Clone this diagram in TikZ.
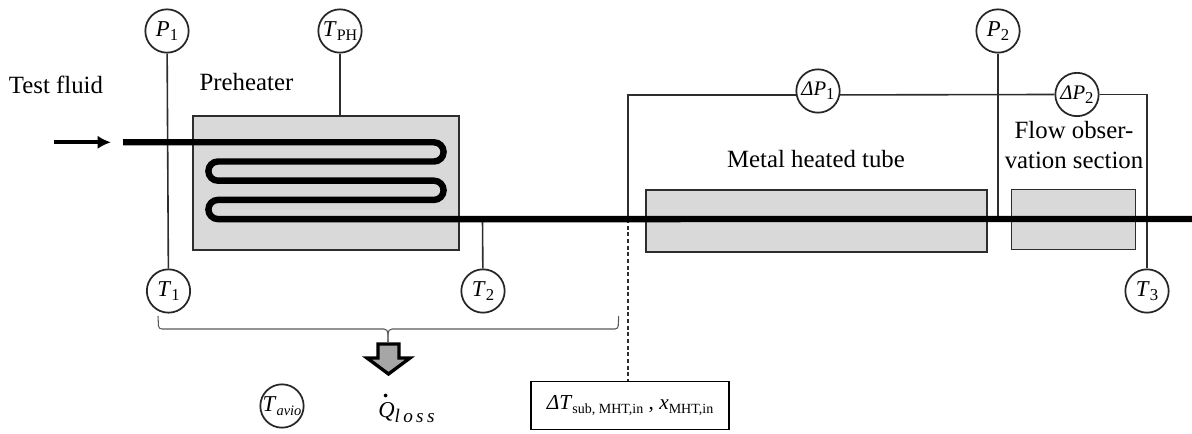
\documentclass[tikz,border=0pt]{standalone}
\usepackage{fontspec}
\setmainfont{Liberation Serif}
\definecolor{heatgray}{RGB}{217, 217, 217}
\definecolor{lossgray}{RGB}{166, 166, 166}
\definecolor{wiredark}{RGB}{45, 45, 45}
\usetikzlibrary{arrows.meta, positioning, calc}
\newcommand{\lowsub}[2][12.5]{\raisebox{-0.4ex}{\fontsize{#1}{14}\selectfont #2}}
\newcommand{\sensortext}[1]{\makebox[0pt][c]{#1}}
\tikzset{
	heater/.style={rectangle, draw=wiredark, fill=heatgray, line width=1.3pt},
	sensor/.style={circle, draw=black!85, fill=white, line width=1.3pt, minimum size=32.5pt, inner sep=0pt, font=\fontsize{17}{18}\selectfont},
	wire/.style={draw=wiredark, line width=1.2pt},
	dashwire/.style={draw=wiredark, line width=1.2pt, densely dashed},
	pipe/.style={draw=black, line width=4.8pt},
	feedarrow/.style={-{Latex[length=10pt, width=10pt]}, draw=black, line width=3pt},
	caption/.style={anchor=base, align=center, inner sep=0pt, font=\fontsize{18.6}{22.5}\selectfont},
	resultbox/.style={rectangle, draw=black, line width=1.3pt, minimum width=148pt, minimum height=36pt, inner sep=0pt, font=\fontsize{16}{18}\selectfont},
	bracket/.style={draw=black!65, line width=0.8pt},
	lossarrow/.style={draw=black, fill=lossgray, line width=2.5pt, miter limit=10},
}

\begin{document}
\begin{tikzpicture}[x=0.75pt, y=-0.75pt]
		\useasboundingbox (0,0) rectangle (1192,434);
		% heated sections
		\node[heater, minimum width=200pt, minimum height=101pt] (preheater) at (326,183) {};
		\node[heater, minimum width=256pt, minimum height=46pt] (mht) at (816.5,221) {};
		\node[heater, minimum width=93pt, minimum height=45pt] (obs) at (1073.5,219.5) {};
		% sensors
		\node[sensor] (P1) at (167,31) {\sensortext{\textit{P}\lowsub{1}}};
		\node[sensor] (TPH) at (340,31) {\sensortext{\textit{T}\lowsub[12]{PH}}};
		\node[sensor] (P2) at (998,31) {\sensortext{\textit{P}\lowsub{2}}};
		\node[sensor, font=\fontsize{15.5}{18}\selectfont] (dP1) at (818,91) {\sensortext{\textit{ΔP}\lowsub{1}}};
		\node[sensor, font=\fontsize{15.5}{18}\selectfont] (dP2) at (1077,94.5) {\sensortext{\textit{ΔP}\lowsub{2}}};
		\node[sensor] (T1) at (168.5,291) {\sensortext{\textit{T}\lowsub{1}}};
		\node[sensor] (T2) at (483,291) {\sensortext{\textit{T}\lowsub{2}}};
		\node[sensor] (T3) at (1147,291) {\sensortext{\textit{T}\lowsub{3}}};
		\node[sensor] (Tavio) at (282,406) {\sensortext{\textit{T}\lowsub[10.8]{\textit{avio}}}};
		\node[resultbox] (result) at (630,405.5) {\textit{ΔT}\lowsub[10.5]{sub, MHT,in} , \textit{x}\lowsub[10.5]{MHT,in}};
		% labels
		\node[caption] (fluidlabel) at (56,94) {Test fluid};
		\node[caption] (preheatlabel) at (246.5,91) {Preheater};
		\node[caption] (mhtlabel) at (816,168) {Metal heated tube};
		\node[caption] (obslabel) at (1074,169) {Flow obser-\\vation section};
		\node[inner sep=0pt, anchor=base west, font=\fontsize{17}{22}\selectfont] (qloss) at (378,417) {\textit{Q}\llap{\raisebox{14.5pt}{\textbf{.}\kern4.5pt}}\raisebox{-3.75pt}{\fontsize{14.4}{16}\selectfont\textit{l\kern2.5pt o\kern2.5pt s\kern2.5pt s}}};
		% taps on the tube
		\coordinate (inlet) at (123,142.3);
		\coordinate (outlet) at (1192,219);
		\coordinate (feedstart) at (54,142.3);
		\coordinate (feedend) at (111,142.3);
		\coordinate (tapT2) at (482.5,219);
		\coordinate (tapP2) at (998,219);
		\coordinate (tapdP) at (628,219);
		\draw[wire] (P1) -- (T1);
		\draw[wire] (TPH) -- (preheater.north -| TPH);
		\draw[wire] (tapT2) -- (T2);
		\draw[wire] (P2) -- (tapP2);
		\draw[wire] (tapdP) |- (dP1.190);
		\draw[wire] (dP1.-10) -- (dP2.west);
		\draw[wire] (dP2.east) -| (T3);
		\draw[dashwire] (tapdP) -- (tapdP |- result.north);
		% tube
		\draw[feedarrow] (feedstart) -- (feedend);
		\draw[pipe] (inlet) -- (434,142.3) arc (90:-90:7.2pt) -- (218,161.5) arc (90:270:7.2pt)
			-- (434,180.7) arc (90:-90:7.2pt) -- (218,199.9) arc (90:270:7.2pt) -- (outlet);
		% heat loss
		\coordinate (brl) at (158,316);
		\coordinate (brr) at (618.7,316);
		\coordinate (brtip) at (388,342);
		\draw[bracket] (brl) -- (158.5,326) to[out=-90,in=180] (162,329) -- (384,329) to[out=0,in=90] (brtip);
		\draw[bracket] (brr) -- (618.2,326) to[out=-90,in=0] (615,329) -- (392,329) to[out=180,in=90] (brtip);
		\draw[lossarrow] (378,344) -- (399,344) -- (399,358) -- (410,358) -- (388.5,374) -- (367,358) -- (378,358) -- cycle;
\end{tikzpicture}
\end{document}
